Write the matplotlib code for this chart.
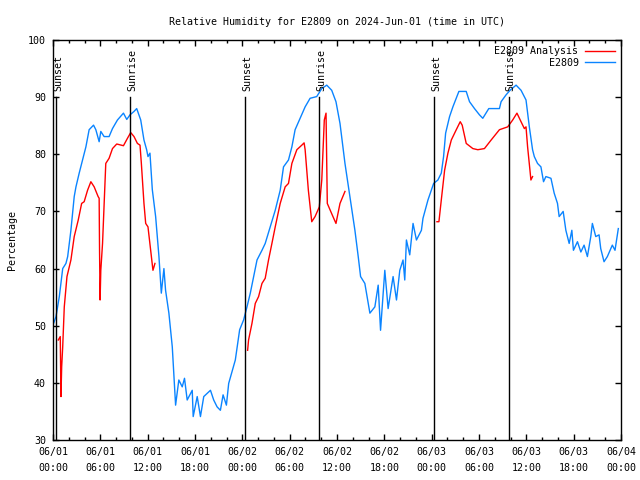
import numpy as np
import matplotlib
matplotlib.use("Agg")
import matplotlib.pyplot as plt
from matplotlib.ticker import MultipleLocator

plt.rcParams['font.family'] = ['DejaVu Sans Mono']

# hours since 2024-06-01 00:00 UTC
obs_hours = [0.10, 0.38, 0.80, 1.23, 1.64, 1.86, 2.27, 2.69, 2.91, 3.32, 3.75, 4.17, 4.58, 5.14,
             5.43, 5.85, 6.06, 6.48, 7.11, 7.54, 8.17, 8.93, 9.35, 9.76, 10.27, 10.61, 11.12,
             11.53, 11.87, 12.04, 12.29, 12.59, 13.01, 13.43, 13.73, 14.06, 14.27, 14.69, 15.12,
             15.41, 15.54, 15.95, 16.38, 16.67, 17.01, 17.65, 17.77, 18.28, 18.69, 19.11, 19.96,
             20.37, 20.80, 21.22, 21.56, 21.98, 22.27, 22.70, 23.11, 23.66, 24.16, 24.59, 25.01,
             25.43, 25.86, 26.49, 26.90, 27.54, 28.17, 28.80, 29.22, 29.85, 30.28, 30.69, 31.32,
             31.96, 32.59, 33.43, 34.07, 34.70, 35.33, 35.87, 36.38, 37.01, 37.64, 38.27, 38.69,
             38.99, 39.53, 40.17, 40.80, 41.22, 41.52, 42.06, 42.48, 43.11, 43.54, 43.96, 44.37,
             44.59, 44.80, 45.22, 45.64, 46.07, 46.70, 46.90, 47.53, 48.25, 48.79, 49.22, 49.51,
             49.77, 50.27, 50.69, 51.45, 52.38, 52.80, 53.43, 54.06, 54.48, 55.24, 56.59, 56.80,
             57.43, 57.94, 58.70, 59.33, 59.96, 60.38, 60.79, 61.01, 61.42, 61.85, 62.18, 62.48,
             63.12, 63.53, 63.95, 64.16, 64.67, 65.01, 65.43, 65.77, 65.97, 66.48, 66.91, 67.32,
             67.74, 68.17, 68.37, 68.80, 69.22, 69.43, 69.85, 70.27, 70.90, 71.24, 71.66]
obs_rh = [50.5, 51.6, 55.1, 60.0, 60.9, 62.1, 66.7, 72.6, 74.3, 76.7, 79.0, 81.3, 84.3, 85.1,
          84.3, 82.2, 84.0, 83.1, 83.1, 84.5, 86.0, 87.2, 86.1, 86.9, 87.5, 88.0, 86.0,
          82.5, 80.8, 79.6, 80.2, 73.8, 69.1, 62.1, 55.7, 60.0, 56.2, 52.2, 46.3,
          39.3, 36.1, 40.5, 39.3, 40.8, 37.0, 38.7, 34.1, 37.6, 34.1, 37.6, 38.7,
          37.0, 35.8, 35.2, 37.9, 36.1, 39.9, 42.0, 44.0, 49.3, 51.0, 53.3, 55.7,
          58.6, 61.5, 63.2, 64.4, 67.3, 70.2, 73.7, 77.8, 79.0, 81.3, 84.3, 86.3,
          88.3, 89.8, 90.1, 91.5, 92.1, 91.2, 89.2, 85.4, 78.4, 72.6, 66.7, 62.1,
          58.6, 57.4, 52.2, 53.3, 57.1, 49.2, 59.7, 53.0, 58.6, 54.5, 59.7, 61.5,
          58.0, 65.0, 62.4, 67.9, 65.0, 66.7, 68.8, 72.0, 74.9, 75.5, 76.7, 79.6,
          83.7, 86.6, 88.3, 91.0, 91.0, 89.2, 88.0, 86.9, 86.3, 88.0, 88.0, 89.2,
          90.4, 91.2, 92.1, 91.2, 89.5, 84.8, 80.8, 79.6, 78.4, 77.8, 75.2, 76.1,
          75.8, 73.2, 71.4, 69.1, 70.0, 66.7, 64.4, 66.7, 63.2, 64.7, 62.9, 64.1,
          62.1, 65.6, 67.9, 65.6, 65.9, 63.5, 61.2, 62.1, 64.1, 63.2, 67.0]

# analysis series, NaN marks the gaps between runs
ana_hours = [0.67, 0.92, 1.01, 1.10, 1.23, 1.43, 1.77, 2.27, 2.69, 3.20, 3.63, 3.95, 4.38, 4.80,
             5.22, 5.72, 5.85, 5.90, 5.97, 6.06, 6.28, 6.69, 7.11, 7.54, 8.08, 8.93, 9.44, 9.85,
             10.27, 10.70, 11.03, 11.20, 11.53, 11.75, 12.04, 12.38, 12.67, 12.80, 12.92,
             18.0,
             24.67, 24.79, 25.22, 25.64, 26.06, 26.49, 26.90, 27.32, 27.75, 28.17, 28.80, 29.43,
             29.85, 30.28, 30.91, 31.54, 31.83, 31.96, 32.37, 32.80, 33.22, 33.76, 34.07, 34.39,
             34.61, 34.77, 35.33, 35.87, 36.38, 37.01,
             42.0,
             48.67, 48.92, 49.22, 49.64, 50.06, 50.49, 51.12, 51.62, 51.87, 52.38, 53.22, 53.85,
             54.69, 55.54, 56.59, 57.64, 58.27, 58.81, 59.33, 59.75, 59.96, 60.16, 60.46, 60.58,
             60.79]
ana_rh = [47.5, 48.1, 37.6, 42.8, 46.3, 53.3, 58.6, 61.5, 65.6, 68.5, 71.4, 71.7, 73.7, 75.2,
          74.3, 72.6, 72.3, 63.2, 54.5, 59.7, 64.4, 78.4, 79.3, 81.0, 81.8, 81.5, 82.8, 83.8,
          83.1, 81.9, 81.6, 78.4, 71.4, 67.9, 67.3, 63.2, 59.7, 60.3, 60.9,
          np.nan,
          45.7, 47.5, 50.4, 53.9, 55.1, 57.4, 58.3, 61.5, 64.4, 67.3, 71.4, 74.3,
          74.9, 78.4, 80.8, 81.6, 82.0, 80.8, 73.7, 68.2, 69.1, 70.8, 75.5, 86.0,
          87.2, 71.4, 69.6, 67.9, 71.4, 73.5,
          np.nan,
          68.2, 68.2, 72.0, 77.2, 80.2, 82.5, 84.3, 85.7, 85.1, 81.9, 81.0, 80.8,
          81.0, 82.5, 84.3, 84.8, 86.0, 87.2, 85.7, 84.5, 84.8, 81.3, 77.2, 75.5,
          76.1]

sun_hours = [0.38, 9.76, 24.38, 33.77, 48.29, 57.76]
sun_names = ["Sunset", "Sunrise", "Sunset", "Sunrise", "Sunset", "Sunrise"]

tick_hours = list(range(0, 73, 6))
tick_labels = ["06/01\n00:00", "06/01\n06:00", "06/01\n12:00", "06/01\n18:00",
               "06/02\n00:00", "06/02\n06:00", "06/02\n12:00", "06/02\n18:00",
               "06/03\n00:00", "06/03\n06:00", "06/03\n12:00", "06/03\n18:00",
               "06/04\n00:00"]

fs = 7.2

fig = plt.figure(figsize=(6.4, 4.8), dpi=100)
ax = fig.add_axes([53 / 640, 40 / 480, 568 / 640, 400 / 480])

ax.plot(ana_hours, ana_rh, color='#ff0000', lw=1.0, label='E2809 Analysis')
ax.plot(obs_hours, obs_rh, color='#0a84ff', lw=1.0, label='E2809')

for h, name in zip(sun_hours, sun_names):
    ax.plot([h, h], [30, 90], color='black', lw=1.0)
    ax.text(h + 0.25, 91, name, rotation=90, ha='center', va='bottom', fontsize=fs)

ax.set_xlim(0, 72)
ax.set_ylim(30, 100)
ax.set_xticks(tick_hours)
ax.set_xticklabels(tick_labels, fontsize=fs, linespacing=1.75)
ax.xaxis.set_minor_locator(MultipleLocator(2))
ax.set_yticks(range(30, 101, 10))
ax.tick_params(axis='y', labelsize=fs)
ax.tick_params(which='both', direction='in', top=True, right=True, width=1)
ax.tick_params(which='major', length=4, pad=5)
ax.tick_params(which='minor', length=2.5)
for s in ax.spines.values():
    s.set_linewidth(1)

ax.set_ylabel('Percentage', fontsize=fs, labelpad=8)
ax.set_title('Relative Humidity for E2809 on 2024-Jun-01 (time in UTC)', fontsize=fs, pad=11)

leg = ax.legend(loc='upper right', frameon=False, fontsize=fs, markerfirst=False,
                handlelength=3.0, borderaxespad=0.35, borderpad=0.3, labelspacing=0.15,
                handletextpad=0.6)
for t in leg.get_texts():
    t.set_ha('right')

fig.savefig('out.png', dpi=100)
